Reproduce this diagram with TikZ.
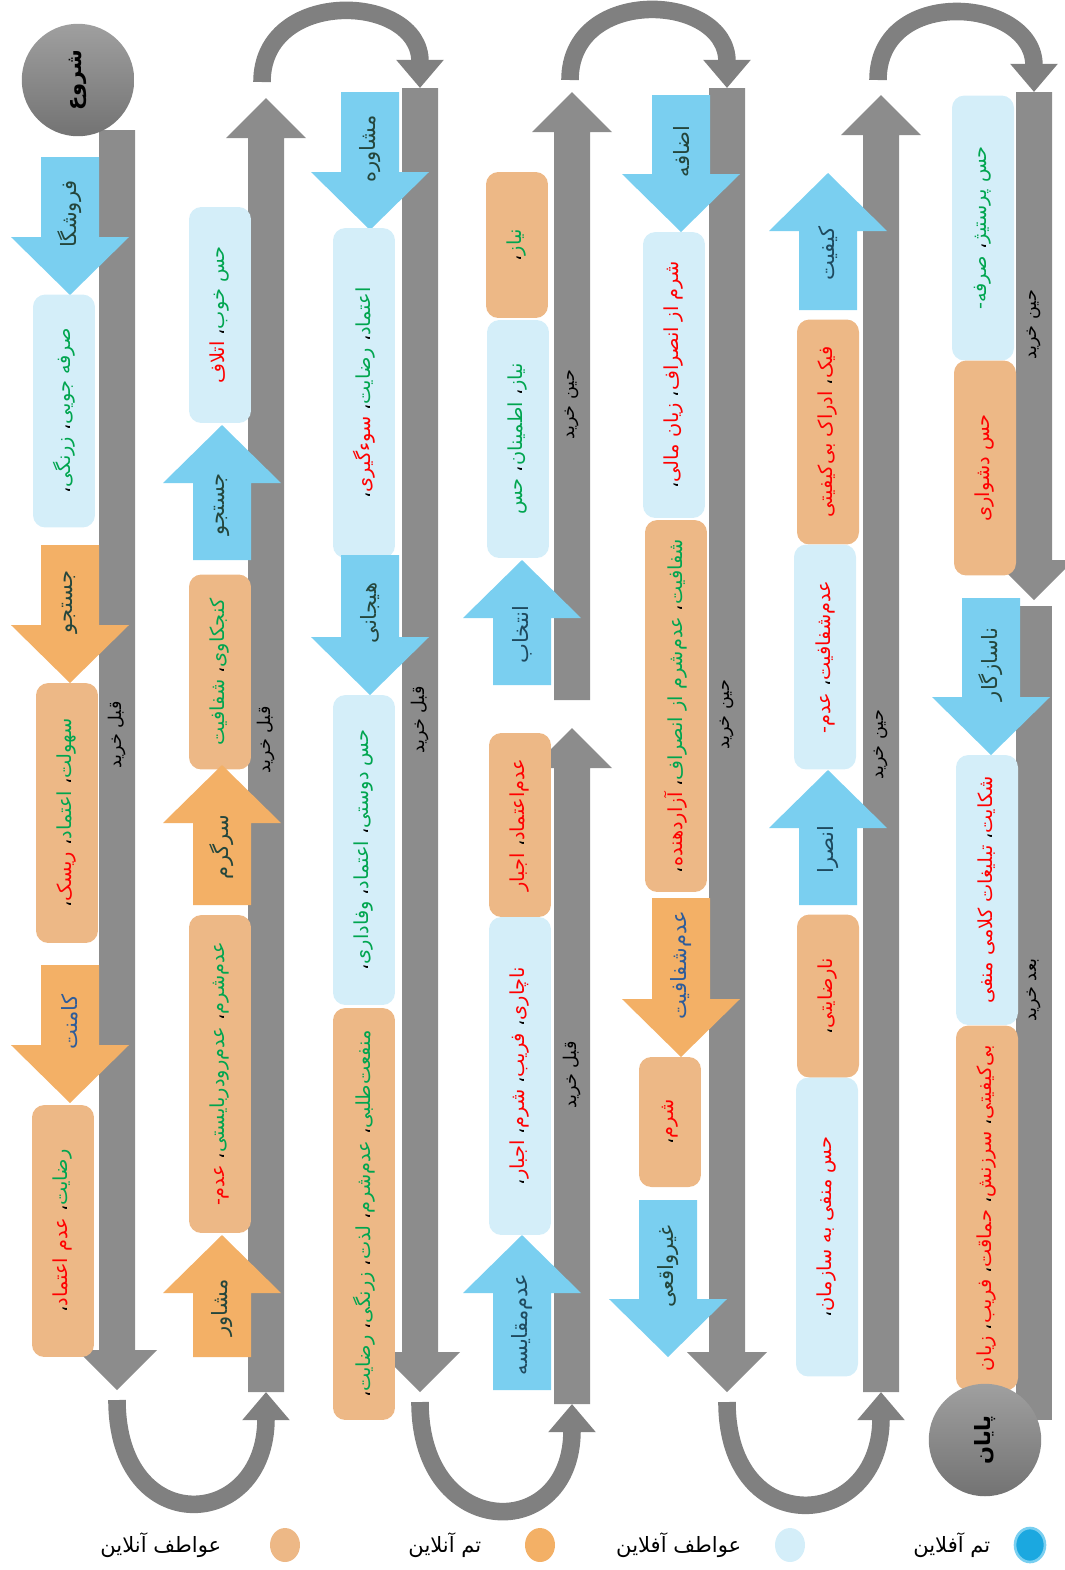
\documentclass[tikz,border=0pt]{standalone}
\usepackage{fontspec}
\usetikzlibrary{arrows.meta,shapes.geometric,positioning}
\TeXXeTstate=1
\newfontfamily\fa[Script=Arabic]{DejaVu Sans}

\definecolor{offtheme}{HTML}{7ACFF0}
\definecolor{ontheme}{HTML}{F3B066}
\definecolor{offemo}{HTML}{D4EEF9}
\definecolor{onemo}{HTML}{EDB886}
\definecolor{tgreen}{HTML}{00A54F}
\definecolor{tred}{HTML}{FF0000}
\definecolor{labdark}{HTML}{24463C}
\definecolor{labblue}{HTML}{2E5C9A}
\definecolor{labteal}{HTML}{1F4A5F}
\definecolor{legblue}{HTML}{1BA8E0}
\definecolor{pathgray}{HTML}{8C8C8C}

% right-to-left runs, coloured one by one
\newcommand{\rt}[2]{\textcolor{#1}{\mbox{\beginR#2\endR}}}
\newcommand{\gw}[1]{\rt{tgreen}{#1}}
\newcommand{\rw}[1]{\rt{tred}{#1}}
\newcommand{\cma}{\rt{black}{،}}
\newcommand{\zw}{^^^^200c}

% grey path pieces
\newcommand{\bardown}[3]{% x, top, tip
  \fill[pathgray] (#1-18,#2) -- (#1+18,#2) -- (#1+18,#3-40) -- (#1+40,#3-40)
    -- (#1,#3) -- (#1-40,#3-40) -- (#1-18,#3-40) -- cycle;}
\newcommand{\barup}[3]{% x, bottom, tip
  \fill[pathgray] (#1-18,#2) -- (#1+18,#2) -- (#1+18,#3+40) -- (#1+40,#3+40)
    -- (#1,#3) -- (#1-40,#3+40) -- (#1-18,#3+40) -- cycle;}

% block arrows with a label
\newcommand{\armdown}[6]{% name, x, tail, tip, colour, label
  \fill[#5] (#2-29,#3) -- (#2+29,#3) -- (#2+29,#4-58) -- (#2+59,#4-58)
    -- (#2,#4) -- (#2-59,#4-58) -- (#2-29,#4-58) -- cycle;
  \node[armtext] (#1) at (#2,{(#3+#4)/2-12}) {#6};}
\newcommand{\armup}[6]{%
  \fill[#5] (#2-29,#3) -- (#2+29,#3) -- (#2+29,#4+58) -- (#2+59,#4+58)
    -- (#2,#4) -- (#2-59,#4+58) -- (#2-29,#4+58) -- cycle;
  \node[armtext] (#1) at (#2,{(#3+#4)/2+12}) {#6};}

\tikzset{
  mapbox/.style={rounded corners=7pt, rotate=90, minimum height=1.24cm,
    inner sep=2pt, font=\fa\fontsize{11}{13}\selectfont},
  offbox/.style={mapbox, fill=offemo},
  onbox/.style={mapbox, fill=onemo},
  armtext/.style={rotate=90, inner sep=0pt, font=\fa\fontsize{12}{14}\selectfont},
  stagetext/.style={rotate=90, inner sep=0pt, font=\fa\fontsize{10}{12}\selectfont},
  endpt/.style={circle, rotate=90, minimum size=2.25cm, top color=gray!75,
    bottom color=black!55, font=\fa\bfseries\fontsize{12}{14}\selectfont},
  loopback/.style={draw=gray, line width=10pt, -{Triangle[width=26pt,length=16pt]}},
  legdot/.style={ellipse, minimum width=0.6cm, minimum height=0.68cm, inner sep=0pt},
  legtext/.style={font=\fa\fontsize{12}{14}\selectfont, inner sep=0pt},
}

\begin{document}
\begin{tikzpicture}[x=0.02cm, y=-0.02cm]
\useasboundingbox (0,0) rectangle (1065,1570);

% turning points
\coordinate (c1e) at (117,1400);
\coordinate (c2s) at (266,1392);
\coordinate (c2e) at (262,82);
\coordinate (c3s) at (420,88);
\coordinate (c3e) at (420,1402);
\coordinate (c4s) at (572,1404);
\coordinate (c4e) at (570,80);
\coordinate (c5s) at (727,88);
\coordinate (c5e) at (727,1402);
\coordinate (c6s) at (881,1392);
\coordinate (c6e) at (878,80);
\coordinate (c7s) at (1034,92);

\draw[loopback] (c1e) .. controls +(0,140) and +(0,140) .. (c2s);
\draw[loopback] (c2e) .. controls +(0,-95) and +(0,-95) .. (c3s);
\draw[loopback] (c3e) .. controls +(0,140) and +(0,140) .. (c4s);
\draw[loopback] (c4e) .. controls +(0,-95) and +(0,-95) .. (c5s);
\draw[loopback] (c5e) .. controls +(0,140) and +(0,140) .. (c6s);
\draw[loopback] (c6e) .. controls +(0,-95) and +(0,-95) .. (c7s);

% the path
\bardown{117}{130}{1390}
\barup{266}{1392}{98}
\bardown{420}{88}{1392}
\barup{572}{700}{92}
\barup{572}{1404}{728}
\bardown{727}{88}{1392}
\barup{881}{1392}{95}
\bardown{1034}{92}{600}
\fill[pathgray] (1016,606) rectangle (1052,1420);

\node[stagetext] (s1) at (117,735) {\rt{black}{قبل خرید}};
\node[stagetext] (s2) at (266,740) {\rt{black}{قبل خرید}};
\node[stagetext] (s3) at (420,720) {\rt{black}{قبل خرید}};
\node[stagetext] (s4) at (572,405) {\rt{black}{حین خرید}};
\node[stagetext] (s5) at (572,1075) {\rt{black}{قبل خرید}};
\node[stagetext] (s6) at (727,715) {\rt{black}{حین خرید}};
\node[stagetext] (s7) at (881,745) {\rt{black}{حین خرید}};
\node[stagetext] (s8) at (1034,325) {\rt{black}{حین خرید}};
\node[stagetext] (s9) at (1034,990) {\rt{black}{بعد خرید}};

% column 1
\armdown{a1}{70}{157}{295}{offtheme}{\rt{labdark}{فروشگا}}
\node[offbox, minimum width=4.66cm] (a1b) at (64,411) {\cma\gw{زرنگی}\ \cma\gw{صرفه جویی}};
\armdown{a2}{70}{545}{683}{ontheme}{\rt{labdark}{جستجو}}
\node[onbox, minimum width=5.2cm] (a2b) at (67,813) {\cma\rw{ریسک}\ \cma\gw{اعتماد}\ \cma\gw{سهولت}};
\armdown{a3}{70}{965}{1103}{ontheme}{\rt{labblue}{کامنت}}
\node[onbox, minimum width=5.04cm] (a3b) at (63,1231) {\cma\rw{عدم اعتماد}\ \cma\gw{رضایت}};

% column 2
\node[offbox, minimum width=4.32cm] (b1b) at (220,315) {\rw{اتلاف}\ \cma\gw{حس خوب}};
\armup{b1}{222}{560}{425}{offtheme}{\rt{labdark}{جستجو}}
\node[onbox, minimum width=3.9cm] (b2b) at (220,672) {\gw{شفافیت}\ \cma\gw{کنجکاوی}};
\armup{b2}{222}{905}{765}{ontheme}{\rt{labdark}{سرگرم}}
\node[onbox, minimum width=6.36cm] (b3b) at (220,1074) {\rw{عدم-}\ \cma\gw{عدم\zw رودربایستی}\ \cma\gw{عدم\zw شرم}};
\armup{b3}{222}{1357}{1235}{ontheme}{\rt{labdark}{مشاور}}

% column 3
\armdown{c1}{370}{92}{230}{offtheme}{\rt{labdark}{مشاوره}}
\node[offbox, minimum width=6.6cm] (c1b) at (364,393) {\cma\rw{سوءگیری}\ \cma\gw{رضایت}\ \cma\gw{اعتماد}};
\armdown{c2}{370}{555}{695}{offtheme}{\rt{labdark}{هیجانی}}
\node[offbox, minimum width=6.2cm] (c2b) at (364,850) {\cma\gw{وفاداری}\ \cma\gw{اعتماد}\ \cma\gw{حس دوستی}};
\node[onbox, minimum width=8.24cm] (c3b) at (364,1214) {\cma\gw{رضایت}\ \cma\gw{زرنگی}\ \cma\gw{لذت}\ \cma\gw{عدم\zw شرم}\ \cma\gw{منفعت\zw طلبی}};

% column 4
\node[onbox, minimum width=2.92cm] (d1b) at (517,245) {\cma\gw{نیاز}};
\node[offbox, minimum width=4.76cm] (d2b) at (518,439) {\gw{حس}\ \cma\gw{اطمینان}\ \cma\gw{نیاز}};
\armup{d1}{522}{685}{560}{offtheme}{\rt{labteal}{انتخاب}}
\node[onbox, minimum width=3.68cm] (d3b) at (520,825) {\rw{اجبار}\ \cma\rw{عدم\zw اعتماد}};
\node[offbox, minimum width=6.36cm] (d4b) at (520,1076) {\cma\rw{اجبار}\ \cma\rw{شرم}\ \cma\rw{فریب}\ \cma\rw{ناچاری}};
\armup{d2}{522}{1390}{1235}{offtheme}{\rt{labteal}{عدم\zw مقایسه}}

% column 5
\armdown{e1}{681}{95}{232}{offtheme}{\rt{labdark}{اضافه}}
\node[offbox, minimum width=5.72cm] (e1b) at (674,375) {\cma\rw{زیان مالی}\ \cma\rw{شرم از انصراف}};
\node[onbox, minimum width=7.44cm] (e2b) at (676,706) {\cma\rw{آزاردهنده}\ \cma\gw{عدم\zw شرم از انصراف}\ \cma\gw{شفافیت}};
\armdown{e2}{681}{898}{1057}{ontheme}{\rt{labblue}{عدم\zw شفافیت}}
\node[onbox, minimum width=2.6cm] (e3b) at (670,1122) {\cma\rw{شرم}};
\armdown{e3}{668}{1200}{1357}{offtheme}{\rt{labdark}{غیرواقعی}}

% column 6
\armup{f1}{828}{310}{173}{offtheme}{\rt{labteal}{کیفیت}}
\node[onbox, minimum width=4.5cm] (f1b) at (828,432) {\rw{ادراک بی\zw کیفیتی}\ \cma\rw{فیک}};
\node[offbox, minimum width=4.5cm] (f2b) at (825,657) {\rw{عدم-}\ \cma\rw{عدم\zw شفافیت}};
\armup{f2}{828}{905}{770}{offtheme}{\rt{labteal}{انصرا}}
\node[onbox, minimum width=3.26cm] (f3b) at (828,996) {\cma\rw{نارضایتی}};
\node[offbox, minimum width=5.98cm] (f4b) at (827,1227) {\cma\rw{حس منفی به سازمان}};

% column 7
\node[offbox, minimum width=5.3cm] (g1b) at (983,228) {\gw{صرفه-}\ \cma\gw{حس پرستیژ}};
\node[onbox, minimum width=4.3cm] (g2b) at (985,468) {\rw{حس دشواری}};
\armdown{g1}{991}{598}{755}{offtheme}{\rt{labdark}{ناسازگار}}
\node[offbox, minimum width=5.4cm] (g3b) at (987,890) {\rw{تبلیغات کلامی منفی}\ \cma\rw{شکایت}};
\node[onbox, minimum width=7.3cm] (g4b) at (987,1208) {\rw{زیان}\ \cma\rw{فریب}\ \cma\rw{حماقت}\ \cma\rw{سرزنش}\ \cma\rw{بی\zw کیفیتی}};

% start and end
\node[endpt] (start) at (78,80) {\rt{black}{شروع}};
\node[endpt] (stop) at (985,1440) {\rt{black}{پایان}};

% legend
\node[legdot, fill=legblue, draw=offtheme, line width=1.5pt] (k1) at (1030,1545) {};
\node[legtext, left=0.46cm of k1] (k1t) {\rt{black}{تم آفلاین}};
\node[legdot, fill=offemo] (k2) at (790,1545) {};
\node[legtext, left=0.66cm of k2] (k2t) {\rt{black}{عواطف آفلاین}};
\node[legdot, fill=ontheme] (k3) at (540,1545) {};
\node[legtext, left=0.86cm of k3] (k3t) {\rt{black}{تم آنلاین}};
\node[legdot, fill=onemo] (k4) at (285,1545) {};
\node[legtext, left=0.96cm of k4] (k4t) {\rt{black}{عواطف آنلاین}};
\end{tikzpicture}
\end{document}
